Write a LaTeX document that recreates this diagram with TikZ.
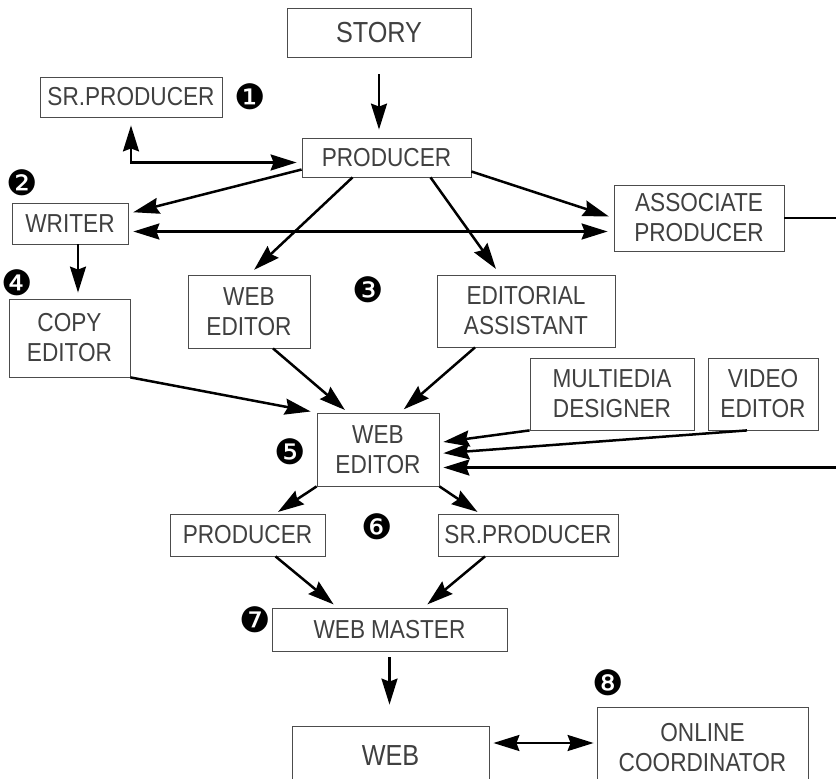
\documentclass[tikz,border=0pt]{standalone}
\usepackage{fontspec}
\setmainfont{Liberation Sans}[FakeStretch=0.87]
\newfontfamily\dingfont{DejaVu Sans}
\usetikzlibrary{arrows.meta,calc}
\newcommand\lbl{\fontsize{26}{30}\selectfont}
\newcommand\biglbl{\fontsize{29}{32}\selectfont}

\begin{document}
\begin{tikzpicture}[x=1pt, y=-1pt,
  box/.style={draw=black!70, line width=0.8pt, inner sep=0pt, align=center, text=black!75, font=\lbl},
  num/.style={font=\dingfont\fontsize{35}{35}\selectfont, inner sep=0pt},
  arr/.style={-{Stealth[length=26pt,width=16pt,inset=3pt]}, line width=2.5pt},
  darr/.style={{Stealth[length=26pt,width=16pt,inset=3pt]}-{Stealth[length=26pt,width=16pt,inset=3pt]}, line width=2.5pt}]
  \useasboundingbox (0,0) rectangle (836,779);
  \clip (0,0) rectangle (836,779);

  \node[box, font=\biglbl, minimum width=184pt, minimum height=49pt] (story) at (379,32.5) {STORY};
  \node[box, minimum width=182pt, minimum height=40pt] (srprod) at (131,97) {SR.PRODUCER};
  \node[box, minimum width=169pt, minimum height=39pt] (prod) at (386.5,157.5) {PRODUCER};
  \node[box, minimum width=116pt, minimum height=41pt] (writer) at (70,223.5) {WRITER};
  \node[box, minimum width=170pt, minimum height=66pt] (assoc) at (699,218) {ASSOCIATE\\PRODUCER};
  \node[box, minimum width=122pt, minimum height=73pt] (webed) at (249,311.5) {WEB\\EDITOR};
  \node[box, minimum width=178pt, minimum height=72pt] (edassist) at (526,311) {EDITORIAL\\ASSISTANT};
  \node[box, minimum width=121pt, minimum height=78pt] (copyed) at (69.5,338) {COPY\\EDITOR};
  \node[box, minimum width=122pt, minimum height=73pt] (webedtwo) at (378,449.5) {WEB\\EDITOR};
  \node[box, minimum width=164pt, minimum height=72pt] (mmdesign) at (612,394) {MULTIEDIA\\DESIGNER};
  \node[box, minimum width=110pt, minimum height=72pt] (videoed) at (763,394) {VIDEO\\EDITOR};
  \node[box, minimum width=155pt, minimum height=42pt] (prodtwo) at (247.5,535) {PRODUCER};
  \node[box, minimum width=180pt, minimum height=42pt] (srprodtwo) at (528,535) {SR.PRODUCER};
  \node[box, minimum width=235pt, minimum height=43pt] (webmaster) at (389.5,629.5) {WEB\hspace{6pt}MASTER};
  \node[box, font=\biglbl, minimum width=197pt, minimum height=60pt] (web) at (390.5,756) {WEB};
  \node[box, minimum width=211pt, minimum height=82pt] (coord) at (702.5,748) {ONLINE\\COORDINATOR};

  \node[num] (n1) at (250,97) {❶};
  \node[num] (n2) at (22,183) {❷};
  \node[num] (n3) at (368,290) {❸};
  \node[num] (n4) at (17,283) {❹};
  \node[num] (n5) at (290,452) {❺};
  \node[num] (n6) at (377,527) {❻};
  \node[num] (n7) at (255,620) {❼};
  \node[num] (n8) at (608,683) {❽};

  \coordinate (prodw) at ([yshift=-5pt]prod.west);
  \coordinate (writere) at ([yshift=-8pt]writer.east);
  \coordinate (writers) at ([xshift=8pt]writer.south);
  \coordinate (webe) at ([yshift=13pt]web.east);

  \draw[arr, shorten <=17pt, shorten >=8pt] (story.south) -- (story.south |- prod.north);
  \draw[darr, shorten <=5pt, shorten >=8pt] (prodw) -- (srprod.south |- prodw) -- (srprod.south);
  \draw[arr, shorten >=5pt] ([yshift=-12pt]prod.west) -- ([yshift=10pt]writer.east);
  \draw[darr, shorten <=5pt, shorten >=6pt] (writere) -- (writere -| assoc.west);
  \draw[arr, shorten >=5pt] ([yshift=-14pt]prod.east) -- (assoc.west);
  \draw[arr, shorten >=7pt] ([xshift=-34pt]prod.south) -- (webed.north);
  \draw[arr, shorten >=7pt] ([xshift=44pt]prod.south) -- ([xshift=-26pt]edassist.north);
  \draw[arr, shorten >=6pt] (writers) -- (writers |- copyed.north);
  \draw[arr, shorten >=6pt] (copyed.south east) -- (webedtwo.north west);
  \draw[arr, shorten >=4pt] ([xshift=24pt]webed.south) -- ([xshift=-30pt]webedtwo.north);
  \draw[arr, shorten >=5pt] ([xshift=-51pt]edassist.south) -- ([xshift=22pt]webedtwo.north);
  \draw[arr, shorten >=4pt] (mmdesign.south west) -- ([yshift=7pt]webedtwo.east);
  \draw[arr, shorten >=4pt] ([xshift=-16pt]videoed.south) -- ([yshift=-4pt]webedtwo.east);
  \draw[arr, shorten >=4pt] (assoc.east) -- ++(70,0) |- ([yshift=-18pt]webedtwo.east);
  \draw[arr, shorten >=3pt] (webedtwo.south west) -- ([xshift=28pt]prodtwo.north);
  \draw[arr, shorten >=3pt] (webedtwo.south east) -- ([xshift=-48pt]srprodtwo.north);
  \draw[arr, shorten >=5pt] ([xshift=28pt]prodtwo.south) -- ([xshift=-52pt]webmaster.north);
  \draw[arr, shorten >=5pt] ([xshift=-43pt]srprodtwo.south) -- ([xshift=34pt]webmaster.north);
  \draw[arr, shorten <=6pt, shorten >=21pt] (webmaster.south) -- (webmaster.south |- web.north);
  \draw[darr, shorten <=4pt, shorten >=3pt] (webe) -- (webe -| coord.west);
\end{tikzpicture}
\end{document}
